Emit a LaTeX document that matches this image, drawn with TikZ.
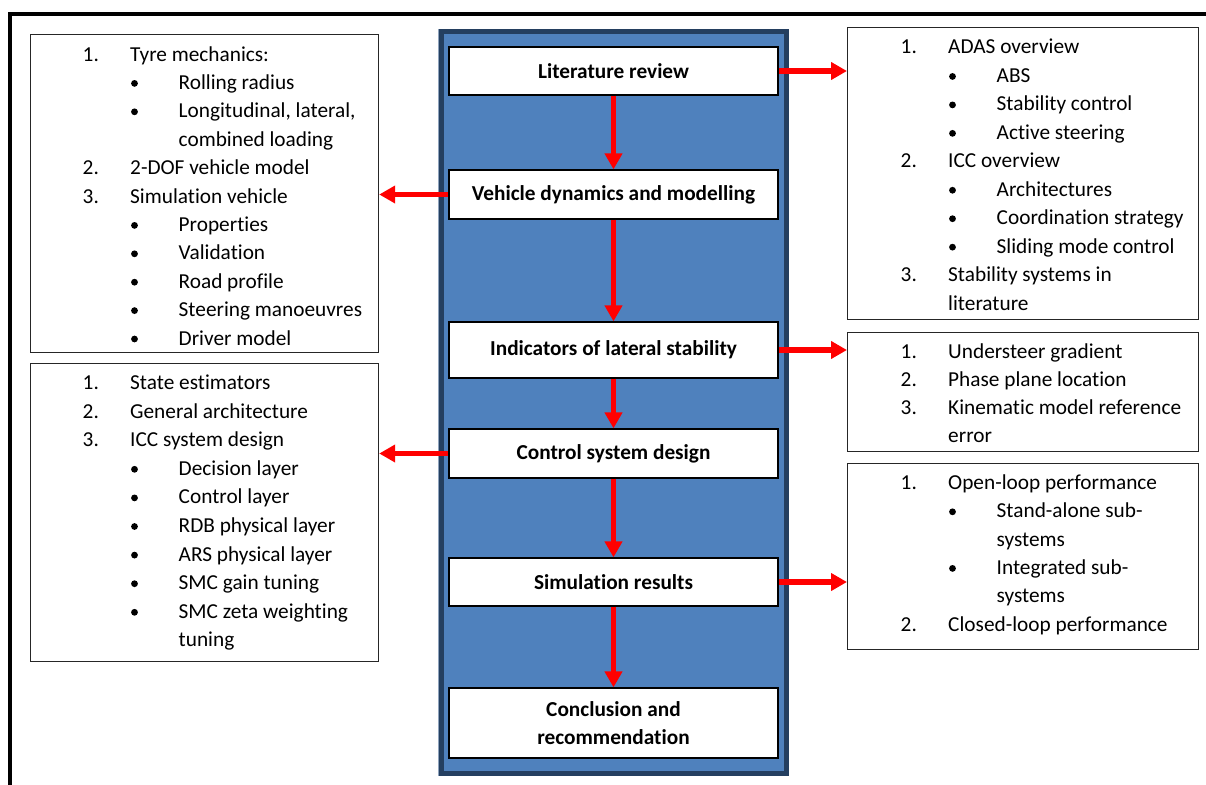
\documentclass[tikz,border=0pt]{standalone}
\usepackage{fontspec}
\setmainfont{Carlito}[Ligatures={CommonOff,NoRequired}]
\usetikzlibrary{arrows.meta}
\definecolor{panelblue}{HTML}{4F81BD}
\definecolor{paneledge}{HTML}{243F60}
\definecolor{panelrim}{HTML}{8FA3BD}
\definecolor{flowred}{HTML}{FF0000}

% numbered line: name, x of number column, baseline, number, text
\newcommand\enumline[5]{%
  \node[txt] (#1-n) at (#2,#3) {#4};
  \node[txt] (#1-t) at (#2+47.5,#3) {#5};}
% bulleted line: name, x of number column, baseline, text
\newcommand\bulline[4]{%
  \node[dot] (#1-b) at (#2+52,#3-6) {};
  \node[txt] (#1-t) at (#2+96,#3) {#4};}

\begin{document}
\begin{tikzpicture}[x=1pt,y=-1pt,
  txt/.style={anchor=base west, inner sep=0pt, font=\fontsize{21.3}{25}\selectfont},
  stage/.style={draw=black, line width=1.2pt, fill=white, inner sep=0pt,
    minimum width=329, align=center, font=\fontsize{21.3}{28}\selectfont\bfseries},
  listbox/.style={draw=black!85, line width=1.2pt, fill=white, inner sep=0pt, anchor=north west},
  dot/.style={circle, fill=black, inner sep=0pt, minimum size=6.8pt},
  flow/.style={draw=flowred, line width=5.3pt, -{Triangle[width=17pt,length=16pt]}},
]
\useasboundingbox (0,0) rectangle (1206,784);
\clip (0,0) rectangle (1206,784);

% outer frame (only top and left edges fall inside the page)
\draw[line width=4pt] (10,800) -- (10,14) -- (1230,14);

% central blue panel: light rim, dark border, blue fill
\draw[panelrim, line width=1.5pt] (438.5,29.5) rectangle (788.5,775.5);
\draw[draw=paneledge, line width=5pt, fill=panelblue] (441,32) rectangle (786,773);

% stages
\node[stage, minimum height=48] (lit) at (613.5,71) {Literature review};
\node[stage, minimum height=49] (veh) at (613.5,194.5) {Vehicle dynamics and modelling};
\node[stage, minimum height=56] (ind) at (613.5,350) {Indicators of lateral stability};
\node[stage, minimum height=49] (ctl) at (613.5,453.5) {Control system design};
\node[stage, minimum height=48] (sim) at (613.5,582) {Simulation results};
\node[stage, minimum height=70] (con) at (613.5,723) {Conclusion and\\recommendation};

% side boxes
\node[listbox, minimum width=348, minimum height=318] (L1) at (30,34) {};
\node[listbox, minimum width=348, minimum height=298] (L2) at (30,363) {};
\node[listbox, minimum width=351, minimum height=292] (R1) at (847,27) {};
\node[listbox, minimum width=351, minimum height=119] (R2) at (847,332) {};
\node[listbox, minimum width=351, minimum height=186] (R3) at (847,463) {};

% flow arrows
\draw[flow] (lit.south) -- (veh.north);
\draw[flow] (veh.south) -- (ind.north);
\draw[flow] (ind.south) -- (ctl.north);
\draw[flow] (ctl.south) -- (sim.north);
\draw[flow] (sim.south) -- (con.north);
\draw[flow] (lit.east) -- (lit.east -| R1.west);
\draw[flow] (veh.west) -- (veh.west -| L1.east);
\draw[flow] (ind.east) -- (ind.east -| R2.west);
\draw[flow] (ctl.west) -- (ctl.west -| L2.east);
\draw[flow] (sim.east) -- (sim.east -| R3.west);

% left box 1
\enumline{la0}{82.5}{61}{1.}{Tyre mechanics:}
\bulline{la1}{82.5}{89.4}{Rolling radius}
\bulline{la2}{82.5}{117.8}{Longitudinal, lateral,}
\node[txt] (la3) at (178.5,146.2) {combined loading};
\enumline{la4}{82.5}{174.6}{2.}{2-DOF vehicle model}
\enumline{la5}{82.5}{203}{3.}{Simulation vehicle}
\bulline{la6}{82.5}{231.4}{Properties}
\bulline{la7}{82.5}{259.8}{Validation}
\bulline{la8}{82.5}{288.2}{Road profile}
\bulline{la9}{82.5}{316.6}{Steering manoeuvres}
\bulline{la10}{82.5}{345}{Driver model}

% left box 2
\enumline{lb0}{82.5}{389.5}{1.}{State estimators}
\enumline{lb1}{82.5}{418.1}{2.}{General architecture}
\enumline{lb2}{82.5}{446.7}{3.}{ICC system design}
\bulline{lb3}{82.5}{475.3}{Decision layer}
\bulline{lb4}{82.5}{503.9}{Control layer}
\bulline{lb5}{82.5}{532.5}{RDB physical layer}
\bulline{lb6}{82.5}{561.1}{ARS physical layer}
\bulline{lb7}{82.5}{589.7}{SMC gain tuning}
\bulline{lb8}{82.5}{618.3}{SMC zeta weighting}
\node[txt] (lb9) at (178.5,646.9) {tuning};

% right box 1
\enumline{ra0}{900.5}{54}{1.}{ADAS overview}
\bulline{ra1}{900.5}{82.45}{ABS}
\bulline{ra2}{900.5}{110.9}{Stability control}
\bulline{ra3}{900.5}{139.35}{Active steering}
\enumline{ra4}{900.5}{167.8}{2.}{ICC overview}
\bulline{ra5}{900.5}{196.25}{Architectures}
\bulline{ra6}{900.5}{224.7}{Coordination strategy}
\bulline{ra7}{900.5}{253.15}{Sliding mode control}
\enumline{ra8}{900.5}{281.6}{3.}{Stability systems in}
\node[txt] (ra9) at (948,310.05) {literature};

% right box 2
\enumline{rb0}{900.5}{358.5}{1.}{Understeer gradient}
\enumline{rb1}{900.5}{386.5}{2.}{Phase plane location}
\enumline{rb2}{900.5}{414.5}{3.}{Kinematic model reference}
\node[txt] (rb3) at (948,442.5) {error};

% right box 3
\enumline{rc0}{900.5}{489.5}{1.}{Open-loop performance}
\bulline{rc1}{900.5}{517.8}{Stand-alone sub-}
\node[txt] (rc2) at (996.5,546.1) {systems};
\bulline{rc3}{900.5}{574.4}{Integrated sub-}
\node[txt] (rc4) at (996.5,602.7) {systems};
\enumline{rc5}{900.5}{631}{2.}{Closed-loop performance}
\end{tikzpicture}
\end{document}
